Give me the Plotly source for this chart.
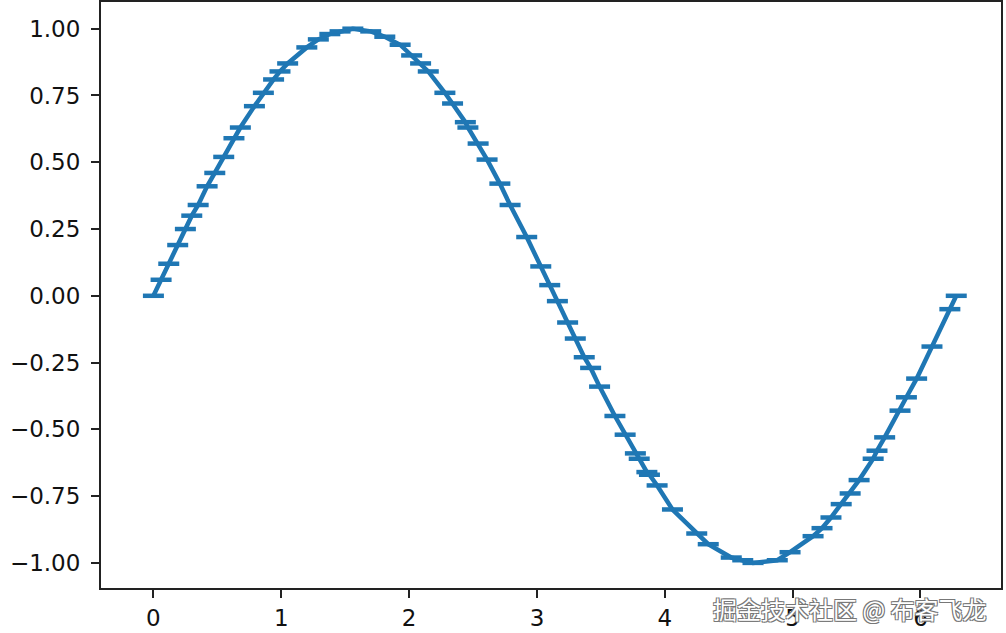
import plotly.graph_objects as go

x_vals = [0.00, 0.06, 0.12, 0.19, 0.25, 0.30, 0.35, 0.42, 0.48, 0.55,
          0.63, 0.68, 0.79, 0.86, 0.94, 0.99, 1.05, 1.20, 1.29, 1.38,
          1.46, 1.56, 1.70, 1.81, 1.93, 2.02, 2.09, 2.15, 2.28, 2.34,
          2.44, 2.46, 2.54, 2.61, 2.71, 2.79, 2.92, 3.03, 3.10, 3.16,
          3.24, 3.30, 3.37, 3.42, 3.49, 3.61, 3.69, 3.77, 3.80, 3.86,
          3.88, 3.94, 4.06, 4.25, 4.34, 4.52, 4.61, 4.69, 4.88, 4.98,
          5.16, 5.23, 5.30, 5.38, 5.45, 5.52, 5.63, 5.66, 5.72, 5.84,
          5.89, 5.97, 6.09, 6.23, 6.28]
y_vals = [0.00, 0.06, 0.12, 0.19, 0.25, 0.30, 0.34, 0.41, 0.46, 0.52,
          0.59, 0.63, 0.71, 0.76, 0.81, 0.84, 0.87, 0.93, 0.96, 0.98,
          0.99, 1.00, 0.99, 0.97, 0.94, 0.90, 0.87, 0.84, 0.76, 0.72,
          0.65, 0.63, 0.57, 0.51, 0.42, 0.34, 0.22, 0.11, 0.04, -0.02,
          -0.10, -0.16, -0.23, -0.27, -0.34, -0.45, -0.52, -0.59, -0.61, -0.66,
          -0.67, -0.71, -0.80, -0.89, -0.93, -0.98, -0.99, -1.00, -0.99, -0.96,
          -0.90, -0.87, -0.83, -0.78, -0.74, -0.69, -0.61, -0.58, -0.53, -0.43,
          -0.38, -0.31, -0.19, -0.05, 0.00]

x_ticks = [0, 1, 2, 3, 4, 5, 6]
y_ticks = [1.00, 0.75, 0.50, 0.25, 0.00, -0.25, -0.50, -0.75, -1.00]

blue = "#1f77b4"

fig = go.Figure(go.Scatter(
    x=x_vals, y=y_vals,
    mode="lines+markers",
    line=dict(color=blue, width=4.5),
    marker=dict(symbol="line-ew", size=15, color=blue,
                line=dict(color=blue, width=4.5)),
    showlegend=False,
))

axis_style = dict(
    showline=True, linecolor="#222", linewidth=2, mirror=True,
    ticks="outside", ticklen=8, tickwidth=2, tickcolor="#222",
    showgrid=False, zeroline=False,
    tickfont=dict(family="DejaVu Sans", size=23, color="#111"),
)

fig.update_xaxes(range=[-0.41, 6.63], tickvals=x_ticks, **axis_style)
fig.update_yaxes(range=[-1.094, 1.10], tickvals=y_ticks, tickformat=".2f",
                 ticklabelstandoff=6, **axis_style)

# watermark, sits over the x tick labels as in the source image
fig.add_annotation(
    text="掘金技术社区 @ 布客飞龙", xref="paper", yref="paper",
    x=0.985, y=-0.001, xanchor="right", yanchor="top", showarrow=False,
    font=dict(family="Noto Sans CJK SC", size=24, color="white",
              shadow="-1px -1px 0 #777, 1px 1px 0 #777, 1px -1px 0 #777, -1px 1px 0 #777"),
)

fig.update_layout(
    width=1006, height=633,
    margin=dict(l=101, r=5, t=2, b=45, autoexpand=False),
    paper_bgcolor="white", plot_bgcolor="white",
)

fig.write_html("out.html", config={"displayModeBar": False},
               post_script="document.body.style.margin='0';")
